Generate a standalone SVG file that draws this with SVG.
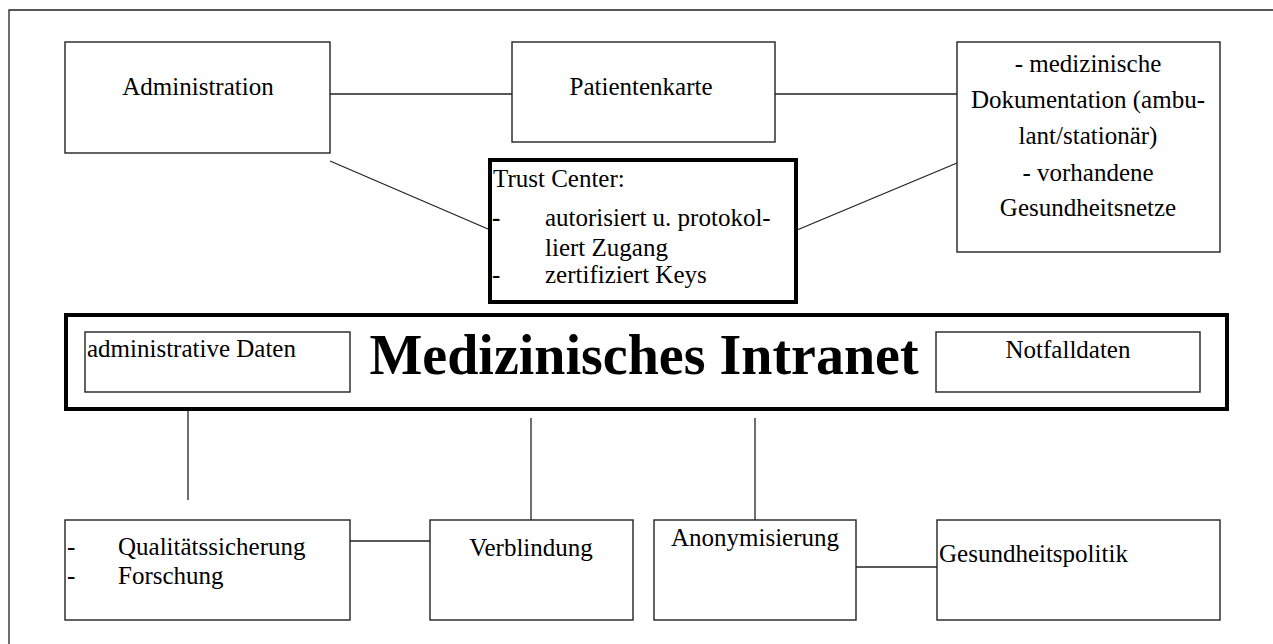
<svg xmlns="http://www.w3.org/2000/svg" width="1273" height="644" viewBox="0 0 1273 644">
<style>
.b{fill:#fff;stroke:#222;stroke-width:1.4}
.tb{fill:#fff;stroke:#000;stroke-width:4}
.l{stroke:#222;stroke-width:1.3;fill:none}
text{font-family:"Liberation Serif","DejaVu Serif",serif;font-size:25px;fill:#000}
.c{text-anchor:middle}
.big{font-size:56px;font-weight:bold}
</style>
<rect width="1273" height="644" fill="#fff"/>
<g id="frame"><path class="l" d="M9,644 V10 H1273" stroke-width="2" stroke="#000"/></g>
<g id="connectors">
<line class="l" x1="330" y1="94" x2="512" y2="94"/>
<line class="l" x1="775" y1="94" x2="957" y2="94"/>
<line class="l" x1="330" y1="161" x2="488" y2="229"/>
<line class="l" x1="797" y1="230" x2="957" y2="163"/>
<line class="l" x1="188" y1="399" x2="188" y2="500"/>
<line class="l" x1="531" y1="418" x2="531" y2="520"/>
<line class="l" x1="755" y1="418" x2="755" y2="520"/>
<line class="l" x1="350" y1="541" x2="430" y2="541"/>
<line class="l" x1="856" y1="567" x2="937" y2="567"/>
</g>
<g id="administration"><rect class="b" x="65" y="42" width="265" height="111"/><text class="c" x="198" y="95">Administration</text></g>
<g id="patientenkarte"><rect class="b" x="512" y="42" width="263" height="100"/><text class="c" x="641" y="95">Patientenkarte</text></g>
<g id="medizinische-doku"><rect class="b" x="957" y="42" width="263" height="210"/>
<text class="c" x="1088" y="72">- medizinische</text>
<text class="c" x="1088" y="108">Dokumentation (ambu-</text>
<text class="c" x="1088" y="144">lant/stationär)</text>
<text class="c" x="1088" y="181">- vorhandene</text>
<text class="c" x="1088" y="216">Gesundheitsnetze</text></g>
<g id="trust-center"><rect class="tb" x="490" y="160" width="306" height="142"/>
<text x="493" y="187">Trust Center:</text>
<text x="492" y="226" font-weight="bold">-</text>
<text x="545" y="226">autorisiert u. protokol-</text>
<text x="545" y="256">liert Zugang</text>
<text x="492" y="283">-</text>
<text x="545" y="283">zertifiziert Keys</text></g>
<g id="intranet"><rect class="tb" x="66" y="315" width="1161" height="94" stroke-width="5"/>
<text class="c big" x="644" y="374">Medizinisches Intranet</text></g>
<g id="admin-daten"><rect class="b" x="85" y="332" width="265" height="60"/><text x="87" y="357">administrative Daten</text></g>
<g id="notfalldaten"><rect class="b" x="936" y="332" width="264" height="60"/><text class="c" x="1068" y="358">Notfalldaten</text></g>
<g id="qualitaet"><rect class="b" x="65" y="520" width="285" height="100"/>
<text x="67" y="555">-</text><text x="118" y="555">Qualitätssicherung</text>
<text x="67" y="584">-</text><text x="118" y="584">Forschung</text></g>
<g id="verblindung"><rect class="b" x="430" y="520" width="203" height="100"/><text class="c" x="531" y="556">Verblindung</text></g>
<g id="anonymisierung"><rect class="b" x="654" y="520" width="202" height="100"/><text class="c" x="755" y="546">Anonymisierung</text></g>
<g id="gesundheitspolitik"><rect class="b" x="937" y="520" width="283" height="100"/><text x="939" y="562">Gesundheitspolitik</text></g>
</svg>
